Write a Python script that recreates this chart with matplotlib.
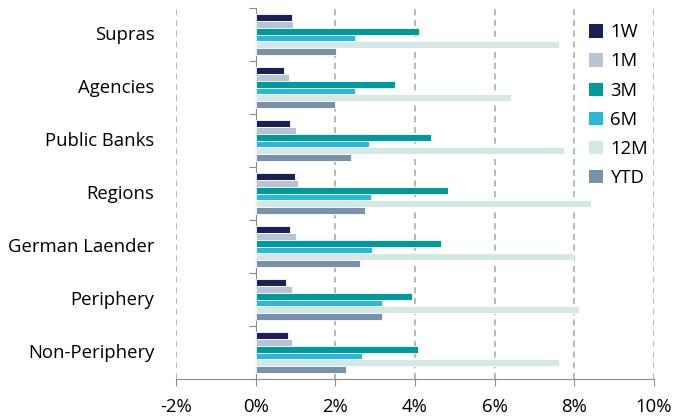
import numpy as np
import matplotlib
matplotlib.use('Agg')
import matplotlib.pyplot as plt
from matplotlib.patches import Patch
from matplotlib.transforms import blended_transform_factory

plt.rcParams['font.family'] = ['Open Sans', 'DejaVu Sans']

# data (% total return)
categories = ["Supras", "Agencies", "Public Banks", "Regions",
              "German Laender", "Periphery", "Non-Periphery"]
series = ["1W", "1M", "3M", "6M", "12M", "YTD"]
r_1w = [0.91, 0.72, 0.87, 0.99, 0.87, 0.76, 0.80]
r_1m = [0.93, 0.83, 1.02, 1.06, 1.02, 0.91, 0.91]
r_3m = [4.11, 3.50, 4.41, 4.84, 4.65, 3.92, 4.07]
r_6m = [2.50, 2.50, 2.85, 2.89, 2.93, 3.16, 2.66]
r_12m = [7.62, 6.40, 7.73, 8.42, 7.96, 8.11, 7.62]
r_ytd = [2.02, 1.98, 2.40, 2.74, 2.62, 3.16, 2.28]
xticks = [-2, 0, 2, 4, 6, 8, 10]

values = [r_1w, r_1m, r_3m, r_6m, r_12m, r_ytd]
colors = ["#1b2157", "#b8c4d4", "#00999c", "#29b8da", "#d4e9e5", "#7891ad"]
fs = 13.3

fig = plt.figure(figsize=(6.76, 4.18), dpi=100)
ax = fig.add_axes([176 / 676, 1 - 379 / 418, (654 - 176) / 676, (379 - 8) / 418])

y = np.arange(len(categories))
h = 0.13
for j, (vals, c) in enumerate(zip(values, colors)):
    ax.barh(y + (j - 2.5) * h, vals, height=h, color=c,
            edgecolor="white", linewidth=0.6, zorder=3)

ax.set_xlim(-2, 10)
ax.set_ylim(len(categories) - 0.5, -0.5)

# x axis
ax.set_xticks(xticks)
ax.set_xticklabels([f"{t}%" for t in xticks], fontsize=fs)
ax.tick_params(axis="x", length=5, color="#8c8c8c", pad=9)
for t in xticks:
    if t != 0:
        ax.axvline(t, color="#a6a6a6", linestyle=(0, (4, 3)), linewidth=1.1, zorder=1)

# y axis at zero with ticks between groups
ax.spines["left"].set_position(("data", 0))
ax.spines["left"].set_color("#8c8c8c")
ax.spines["bottom"].set_color("#8c8c8c")
ax.spines["top"].set_visible(False)
ax.spines["right"].set_visible(False)
ax.set_yticks(np.arange(len(categories) + 1) - 0.5)
ax.set_yticklabels([])
ax.tick_params(axis="y", length=5, color="#8c8c8c")

trans = blended_transform_factory(ax.transAxes, ax.transData)
for yi, name in zip(y, categories):
    ax.text(-0.045, yi, name, transform=trans, ha="right", va="center", fontsize=fs)

handles = [Patch(facecolor=c, edgecolor="none") for c in colors]
fig.legend(handles, series, loc="upper left", bbox_to_anchor=(582 / 676, 1 - 16 / 418),
           frameon=False, fontsize=fs, handlelength=0.72, handleheight=0.72,
           handletextpad=0.4, labelspacing=0.6, borderaxespad=0)

fig.savefig("out.png", dpi=100)
